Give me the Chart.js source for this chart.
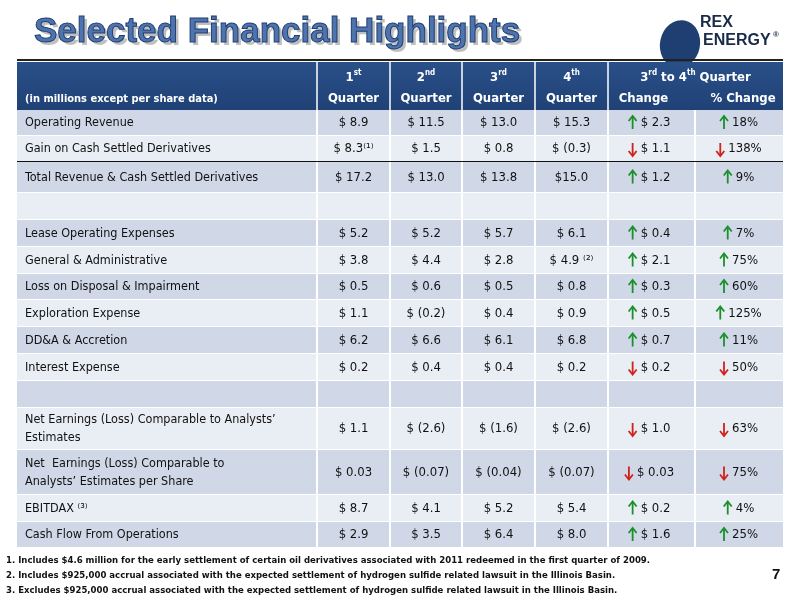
<!DOCTYPE html>
<html><head><meta charset="utf-8">
<script src="https://cdn.jsdelivr.net/npm/chart.js@4/dist/chart.umd.min.js"></script>
<style>html,body{margin:0;padding:0;background:#fff}</style>
</head><body>
<canvas id="c" width="800" height="600"></canvas>
<script>
const rowLabels = ["Operating Revenue","Gain on Cash Settled Derivatives","Total Revenue & Cash Settled Derivatives","","Lease Operating Expenses","General & Administrative","Loss on Disposal & Impairment","Exploration Expense","DD&A & Accretion","Interest Expense","","Net Earnings (Loss) Comparable to Analysts’\nEstimates","Net  Earnings (Loss) Comparable to\nAnalysts’ Estimates per Share","EBITDAX ⁽³⁾","Cash Flow From Operations"];
const q1 = ["$ 8.9","$ 8.3⁽¹⁾","$ 17.2","","$ 5.2","$ 3.8","$ 0.5","$ 1.1","$ 6.2","$ 0.2","","$ 1.1","$ 0.03","$ 8.7","$ 2.9"];
const q2 = ["$ 11.5","$ 1.5","$ 13.0","","$ 5.2","$ 4.4","$ 0.6","$ (0.2)","$ 6.6","$ 0.4","","$ (2.6)","$ (0.07)","$ 4.1","$ 3.5"];
const q3 = ["$ 13.0","$ 0.8","$ 13.8","","$ 5.7","$ 2.8","$ 0.5","$ 0.4","$ 6.1","$ 0.4","","$ (1.6)","$ (0.04)","$ 5.2","$ 6.4"];
const q4 = ["$ 15.3","$ (0.3)","$15.0","","$ 6.1","$ 4.9 ⁽²⁾","$ 0.8","$ 0.9","$ 6.8","$ 0.2","","$ (2.6)","$ (0.07)","$ 5.4","$ 8.0"];
const change = ["$ 2.3","$ 1.1","$ 1.2","","$ 0.4","$ 2.1","$ 0.3","$ 0.5","$ 0.7","$ 0.2","","$ 1.0","$ 0.03","$ 0.2","$ 1.6"];
const pctChange = ["18%","138%","9%","","7%","75%","60%","125%","11%","50%","","63%","75%","4%","25%"];
const direction = ["up","down","up","","up","up","up","up","up","down","","down","down","up","up"];
const footnotes = ["1. Includes $4.6 million for the early settlement of certain oil derivatives associated with 2011 redeemed in the first quarter of 2009.","2. Includes $925,000 accrual associated with the expected settlement of hydrogen sulfide related lawsuit in the Illinois Basin.","3. Excludes $925,000 accrual associated with the expected settlement of hydrogen sulfide related lawsuit in the Illinois Basin."];
const colEdges = [0,300,373,445,518,591,678,766];
const rowHeights = [48,26,26,31,27,27,27,26,27,27,27,27,42,45,27,26];
const rowEdges = rowHeights.reduce((a,h)=>{a.push(a[a.length-1]+h);return a;},[0]);
const F = '"Liberation Sans Narrow", "DejaVu Sans Condensed", "Roboto", sans-serif';

function supText(ctx,parts,cx,y,big,small){
  let w=0; parts.forEach(p=>{ctx.font=(p[1]?small:big);w+=ctx.measureText(p[0]).width;});
  let x=cx-w/2; ctx.textAlign='left';
  parts.forEach(p=>{ctx.font=(p[1]?small:big);ctx.fillText(p[0],x,p[1]?y-5:y);x+=ctx.measureText(p[0]).width;});
}

const tablePlugin = {
  id:'table',
  afterDraw(chart){
    const ctx=chart.ctx, xs=chart.scales.x, ys=chart.scales.y;
    const X=v=>xs.getPixelForValue(v), Y=v=>ys.getPixelForValue(v);
    ctx.save();
    ctx.font='bold 35px "Liberation Sans", Arial, sans-serif';
    ctx.textBaseline='alphabetic'; ctx.textAlign='left';
    ctx.fillStyle='rgba(0,0,0,0.25)'; ctx.fillText('Selected Financial Highlights',37,45);
    ctx.fillStyle='#4f73ad'; ctx.fillText('Selected Financial Highlights',34,42);
    ctx.lineWidth=1; ctx.strokeStyle='#1f3f73'; ctx.strokeText('Selected Financial Highlights',34,42);
    ctx.fillStyle='#1f3f73';
    ctx.beginPath(); ctx.ellipse(680,44,20,24,0.2,0,Math.PI*2); ctx.fill();
    ctx.font='bold 16px "Liberation Sans", Arial, sans-serif';
    ctx.fillStyle='#1a2b4a'; ctx.fillText('REX',700,27); ctx.fillText('ENERGY',703,45);
    ctx.font='bold 8px sans-serif'; ctx.fillText('®',773,37);
    ctx.fillStyle='#222'; ctx.fillRect(X(0),Y(0)-3,X(766)-X(0),2);
    const g=ctx.createLinearGradient(0,Y(0),0,Y(rowEdges[1]));
    g.addColorStop(0,'#2a5088'); g.addColorStop(1,'#1f4176');
    ctx.fillStyle=g; ctx.fillRect(X(0),Y(0),X(766)-X(0),Y(rowEdges[1])-Y(0));
    ctx.strokeStyle='#fff'; ctx.lineWidth=1.5;
    for(let c=1;c<colEdges.length-1;c++){ if(c===6) continue; ctx.beginPath(); ctx.moveTo(X(colEdges[c]),Y(0)); ctx.lineTo(X(colEdges[c]),Y(rowEdges[1])); ctx.stroke(); }
    ctx.fillStyle='#fff'; ctx.textBaseline='middle';
    ctx.textAlign='left'; ctx.font='bold 11px '+F; ctx.fillText('(in millions except per share data)',X(8),Y(37));
    const ord=[['1','st'],['2','nd'],['3','rd'],['4','th']];
    const B='bold 13px '+F, S='bold 8px '+F;
    for(let i=0;i<4;i++){
      const cx=(X(colEdges[i+1])+X(colEdges[i+2]))/2;
      ctx.textAlign='center'; ctx.font=B; ctx.fillText('Quarter',cx,Y(37));
      supText(ctx,[[ord[i][0],0],[ord[i][1],1]],cx,Y(16),B,S);
    }
    const cc=(X(colEdges[5])+X(colEdges[7]))/2;
    supText(ctx,[['3',0],['rd',1],[' to 4',0],['th',1],[' Quarter',0]],cc,Y(16),B,S);
    ctx.textAlign='center'; ctx.font=B;
    ctx.fillText('Change',(X(colEdges[5])+X(colEdges[6]))/2-8,Y(37));
    ctx.fillText('% Change',(X(colEdges[6])+X(colEdges[7]))/2+4,Y(37));
    const cols=[q1,q2,q3,q4,change,pctChange];
    for(let r=0;r<rowLabels.length;r++){
      const y0=Y(rowEdges[r+1]), y1=Y(rowEdges[r+2]), ym=(y0+y1)/2;
      ctx.fillStyle = r%2===0 ? '#d0d8e8' : '#e9edf4';
      ctx.fillRect(X(0),y0,X(766)-X(0),y1-y0);
      ctx.strokeStyle='#fff'; ctx.lineWidth=2;
      ctx.beginPath(); ctx.moveTo(X(0),y1); ctx.lineTo(X(766),y1); ctx.stroke();
      for(let c=1;c<colEdges.length-1;c++){ctx.beginPath();ctx.moveTo(X(colEdges[c]),y0);ctx.lineTo(X(colEdges[c]),y1);ctx.stroke();}
      ctx.fillStyle='#111'; ctx.font='12.5px '+F; ctx.textAlign='left';
      const lines=rowLabels[r].split('\n');
      lines.forEach((t,i)=>ctx.fillText(t,X(8),ym+(i-(lines.length-1)/2)*18));
      ctx.textAlign='center';
      for(let c=0;c<cols.length;c++){
        const t=cols[c][r]; if(!t) continue;
        const cx=(X(colEdges[c+1])+X(colEdges[c+2]))/2;
        ctx.font='13px '+F;
        if(c>=4){
          const w=ctx.measureText(t).width;
          const tx = c===4 ? cx+4 : cx+6;
          ctx.fillStyle='#111'; ctx.fillText(t,tx,ym);
          const ax=tx-w/2-8, up=direction[r]==='up';
          ctx.strokeStyle= up?'#1a8f2a':'#d0211b';
          ctx.lineWidth=1.8; ctx.beginPath(); ctx.moveTo(ax,ym-6); ctx.lineTo(ax,ym+6); ctx.stroke();
          ctx.beginPath();
          if(up){ctx.moveTo(ax-4,ym-2);ctx.lineTo(ax,ym-7);ctx.lineTo(ax+4,ym-2);}else{ctx.moveTo(ax-4,ym+2);ctx.lineTo(ax,ym+7);ctx.lineTo(ax+4,ym+2);}
          ctx.stroke();
        } else { ctx.fillStyle='#111'; ctx.fillText(t,cx,ym); }
      }
      if(r===1){ ctx.fillStyle='#111'; ctx.fillRect(X(0),y1-1,X(766)-X(0),2); }
    }
    ctx.fillStyle='#111'; ctx.textAlign='left'; ctx.font='bold 9.5px '+F;
    footnotes.forEach((t,i)=>ctx.fillText(t,6,561+i*15));
    ctx.font='bold 15px "Liberation Sans", sans-serif'; ctx.fillText('7',772,575);
    ctx.restore();
  }
};

new Chart(document.getElementById('c'),{
  type:'scatter',
  data:{datasets:[{data:[]}]},
  options:{
    responsive:false, animation:false,
    layout:{padding:{left:17,right:17,top:62,bottom:600-62-rowEdges[rowEdges.length-1]}},
    plugins:{legend:{display:false},tooltip:{enabled:false}},
    scales:{
      x:{type:'linear',min:0,max:colEdges[colEdges.length-1],display:false},
      y:{type:'linear',min:0,max:rowEdges[rowEdges.length-1],reverse:true,display:false}
    }
  },
  plugins:[tablePlugin]
});
</script>
</body></html>
